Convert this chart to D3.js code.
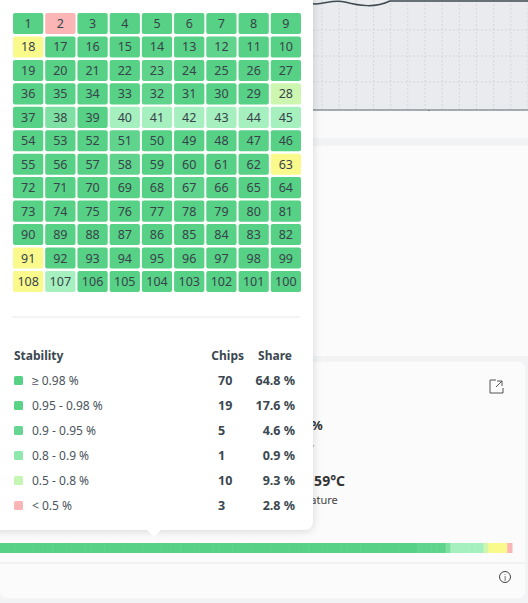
<!DOCTYPE html>
<html><head><meta charset="utf-8">
<script src="https://cdn.jsdelivr.net/npm/d3@7"></script>
<style>
body{margin:0;background:#f2f3f5;font-family:"Noto Sans",sans-serif;}
svg{display:block}
</style></head>
<body>
<div class="canvas"></div>
<script>
// chip stability values (1..108), null = not measured
const lowChips = {2: 0.3, 28: 0.7, 38: 0.92, 40: 0.86, 41: 0.86, 42: 0.82, 43: 0.86, 44: 0.86, 45: 0.86,
                  107: 0.82, 12: 0.96, 32: 0.96, 51: 0.96, 67: 0.96, 23: 0.97, 58: 0.97};
const missingChips = [18, 63, 91, 108];
const chipIds = d3.range(1, 109);
const stability = chipIds.map(id => missingChips.includes(id) ? null : (lowChips[id] ?? 0.99));

const legendLabels = ["≥ 0.98 %", "0.95 - 0.98 %", "0.9 - 0.95 %", "0.8 - 0.9 %", "0.5 - 0.8 %", "< 0.5 %"];
const legendChips = [70, 19, 5, 1, 10, 3];
const legendShare = ["64.8 %", "17.6 %", "4.6 %", "0.9 %", "9.3 %", "2.8 %"];
const legendColors = ["#57d185", "#5ad387", "#66d692", "#8ee8ae", "#c6f6b4", "#fbb5b5"];
const cellColors = ["#fbb5b5", "#cdf7b0", "#a6f0bf", "#7ee0a2", "#60d48c", "#57d185"];

const W = 528, H = 603, cols = 9, rows = 12;

const color = d3.scaleThreshold().domain([0.5, 0.8, 0.9, 0.95, 0.98]).range(cellColors);
const fill = v => v === null ? "#fafa8c" : color(v);

const svg = d3.select(".canvas").append("svg").attr("width", W).attr("height", H);

// ---- dimmed dashboard background ----
const bg = svg.append("g");
bg.append("rect").attr("x", 313).attr("y", 0).attr("width", 215).attr("height", 110).attr("fill", "#e9ebee");
const gx = d3.scaleLinear().domain([0, 12]).range([322, 528]);
bg.selectAll(".vg").data(d3.range(0, 13)).join("line")
  .attr("x1", d => gx(d)).attr("x2", d => gx(d)).attr("y1", 0).attr("y2", 110)
  .attr("stroke", "#d3d6da").attr("stroke-dasharray", "2,2");
bg.selectAll(".hg").data([30, 56, 82]).join("line")
  .attr("x1", 313).attr("x2", 528).attr("y1", d => d).attr("y2", d => d)
  .attr("stroke", "#d3d6da").attr("stroke-dasharray", "2,2");
bg.append("path").attr("d", "M305,2 C320,8 330,-2 345,2 S375,8 390,1 L528,1")
  .attr("fill", "none").attr("stroke", "#3e4a52").attr("stroke-width", 1.5);
bg.append("line").attr("x1", 313).attr("x2", 528).attr("y1", 110).attr("y2", 110).attr("stroke", "#8c9399").attr("stroke-width", 1.5);
bg.append("line").attr("x1", 429).attr("x2", 429).attr("y1", 110).attr("y2", 114).attr("stroke", "#555");
bg.append("text").attr("x", 429).attr("y", 127).attr("text-anchor", "middle").attr("font-size", 10).attr("fill", "#444").text("11:50");
bg.append("rect").attr("x", 313).attr("y", 111).attr("width", 215).attr("height", 27).attr("fill", "#fafafa");
bg.append("rect").attr("x", 313).attr("y", 146).attr("width", 215).attr("height", 210).attr("fill", "#fbfbfb");
bg.append("rect").attr("x", 0).attr("y", 362).attr("width", 525).attr("height", 236).attr("rx", 6).attr("fill", "#fbfbfb");
bg.append("text").attr("x", 311).attr("y", 430).attr("font-size", 13).attr("font-weight", 700).attr("fill", "#333").text("%");
bg.append("text").attr("x", 308).attr("y", 451).attr("font-size", 11).attr("fill", "#444").text("y");
bg.append("text").attr("x", 306).attr("y", 486).attr("font-size", 14).attr("font-weight", 700).attr("fill", "#333").text("- 59°C");
bg.append("text").attr("x", 306).attr("y", 504).attr("font-size", 11).attr("fill", "#444").text("rature");
bg.append("path").attr("d", "M490,380 v13 h13 v-5 M496,380 h-6 M496,387 l6,-6 M497,381 h5 v5")
  .attr("fill", "none").attr("stroke", "#555").attr("stroke-width", 1);
bg.append("line").attr("x1", 0).attr("x2", 525).attr("y1", 563).attr("y2", 563).attr("stroke", "#e6e6e6");
bg.append("circle").attr("cx", 505).attr("cy", 577).attr("r", 5.5).attr("fill", "none").attr("stroke", "#444");
bg.append("text").attr("x", 505).attr("y", 581).attr("text-anchor", "middle").attr("font-size", 8).attr("fill", "#444").text("i");

// stacked bar of all chips, sorted by stability
const sorted = stability.slice().sort((a, b) => (b ?? 0.6) - (a ?? 0.6));
const bx = d3.scaleBand().domain(d3.range(sorted.length)).range([0, 512]);
bg.selectAll(".seg").data(sorted).join("rect")
  .attr("x", (d, i) => bx(i)).attr("y", 543).attr("width", bx.bandwidth() + 0.5).attr("height", 10)
  .attr("fill", fill);

// ---- tooltip card ----
const tip = svg.append("g");
tip.append("rect").attr("x", -10).attr("y", -10).attr("width", 323).attr("height", 540).attr("rx", 8)
  .attr("fill", "#fff").style("filter", "drop-shadow(0 1px 4px rgba(0,0,0,0.15))");
tip.append("path").attr("d", "M146,529 L154,537 L162,529 Z").attr("fill", "#fff");

const x = d3.scaleBand().domain(d3.range(cols)).range([13, 301]).paddingInner(0.06);
const y = d3.scaleBand().domain(d3.range(rows)).range([13, 292]).paddingInner(0.1);
const pos = i => { const r = Math.floor(i / cols), c = i % cols; return [r % 2 ? cols - 1 - c : c, r]; };

const cells = tip.selectAll(".cell").data(chipIds).join("g")
  .attr("transform", (d, i) => `translate(${x(pos(i)[0])},${y(pos(i)[1])})`);
cells.append("rect").attr("width", x.bandwidth()).attr("height", y.bandwidth()).attr("rx", 2)
  .attr("fill", (d, i) => fill(stability[i]));
cells.append("text").attr("x", x.bandwidth() / 2).attr("y", y.bandwidth() / 2 + 4.5)
  .attr("text-anchor", "middle").attr("font-size", 12.5).attr("fill", "#37434b").text(d => d);

tip.append("line").attr("x1", 12).attr("x2", 300).attr("y1", 317).attr("y2", 317).attr("stroke", "#e8e8e8");

const hy = 360;
const hdr = tip.append("g").attr("font-size", 12).attr("font-weight", 700).attr("fill", "#3a4750");
hdr.append("text").attr("x", 14).attr("y", hy).text("Stability");
hdr.append("text").attr("x", 244).attr("y", hy).attr("text-anchor", "end").text("Chips");
hdr.append("text").attr("x", 292).attr("y", hy).attr("text-anchor", "end").text("Share");

const ly = d3.scalePoint().domain(d3.range(legendLabels.length)).range([385, 510]);
const rowsG = tip.selectAll(".lg").data(legendLabels).join("g").attr("transform", (d, i) => `translate(0,${ly(i)})`);
rowsG.append("rect").attr("x", 14).attr("y", -9).attr("width", 9).attr("height", 9).attr("rx", 1.5).attr("fill", (d, i) => legendColors[i]);
rowsG.append("text").attr("x", 32).attr("y", 0).attr("font-size", 12).attr("fill", "#4a555c").text(d => d);
rowsG.append("text").attr("x", 218).attr("y", 0).attr("font-size", 12.5).attr("font-weight", 700).attr("fill", "#3a4750").text((d, i) => legendChips[i]);
rowsG.append("text").attr("x", 295).attr("y", 0).attr("text-anchor", "end").attr("font-size", 12.5).attr("font-weight", 700).attr("fill", "#3a4750").text((d, i) => legendShare[i]);
</script>
</body></html>
